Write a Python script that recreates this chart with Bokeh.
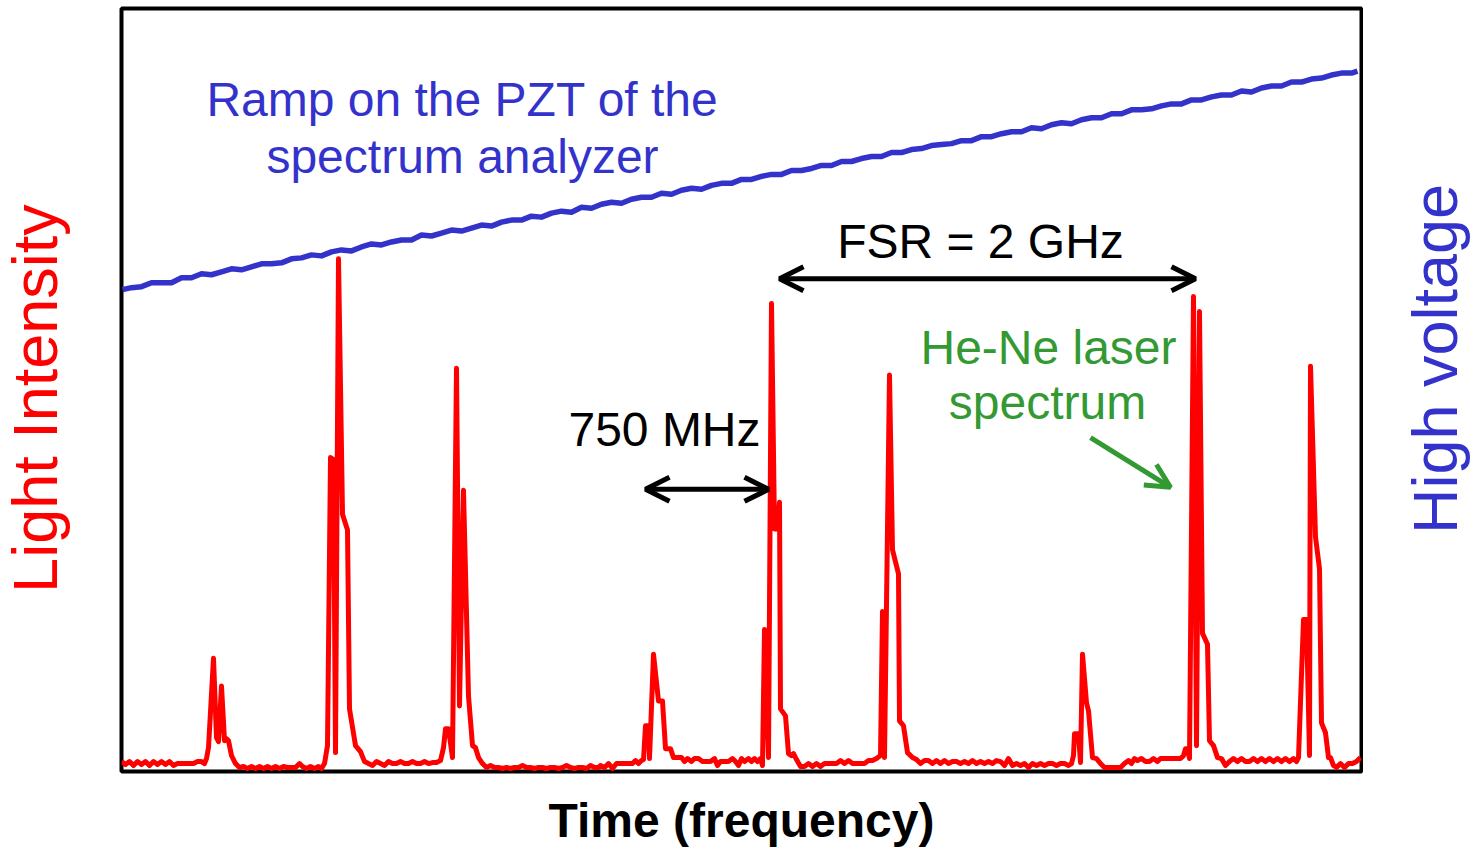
import math
from bokeh.plotting import figure
from bokeh.layouts import row
from bokeh.models import Range1d, FixedTicker, Arrow, OpenHead, Label
from bokeh.core.properties import value
from bokeh.embed import file_html
from bokeh.resources import INLINE

# Detector signal of the scanning Fabry-Perot (time axis, intensity in arb. units)
trace_t = [0, 4, 8, 12, 16, 20, 24, 28, 32, 36, 40, 44, 48, 52, 56, 60, 64, 68, 72, 76, 80, 83, 85, 87,
           92, 95, 97, 100, 103, 105, 107, 110, 114, 118, 122, 126, 130, 134, 138, 142, 146, 150, 154,
           158, 162, 166, 170, 174, 178, 181, 185, 189, 193, 197, 200, 203, 206, 209, 212, 214, 217,
           221, 226, 228, 234, 239, 243, 247, 251, 255, 259, 263, 267, 271, 275, 279, 283, 287, 291,
           295, 299, 303, 307, 311, 315, 319, 322, 324, 327, 331, 335, 338, 342, 347, 351, 354, 357,
           361, 365, 369, 373, 377, 381, 385, 389, 393, 397, 401, 405, 409, 413, 417, 421, 425, 429,
           433, 437, 441, 445, 449, 453, 457, 461, 465, 469, 473, 477, 479, 483, 487, 491, 495, 499,
           503, 507, 511, 514, 517, 520, 522, 524, 527, 528, 532, 537, 541, 544, 549, 552, 556, 560,
           563, 566, 570, 573, 577, 581, 585, 589, 593, 596, 599, 603, 607, 611, 614, 617, 620, 623,
           627, 630, 633, 636, 639, 641, 643, 647, 650, 653, 656, 658, 659, 664, 667, 670, 672, 675,
           679, 683, 687, 691, 695, 699, 703, 707, 711, 715, 719, 723, 727, 731, 735, 739, 743, 747,
           751, 755, 759, 761, 763, 768, 771, 777, 778, 782, 786, 791, 795, 799, 803, 807, 811, 815,
           819, 823, 827, 831, 835, 839, 843, 847, 851, 855, 859, 863, 867, 871, 875, 879, 883, 887,
           891, 895, 899, 903, 907, 911, 915, 919, 923, 927, 931, 935, 939, 943, 947, 950, 952, 953,
           957, 959, 961, 965, 967, 971, 975, 979, 983, 987, 991, 995, 999, 1003, 1007, 1010, 1013,
           1016, 1020, 1024, 1028, 1032, 1036, 1039, 1043, 1047, 1051, 1055, 1059, 1062, 1064, 1066,
           1068, 1072, 1075, 1078, 1081, 1086, 1088, 1092, 1096, 1100, 1104, 1108, 1112, 1116, 1120,
           1124, 1128, 1132, 1136, 1140, 1144, 1148, 1152, 1156, 1160, 1164, 1168, 1172, 1175, 1177,
           1182, 1185, 1188, 1189, 1194, 1198, 1200, 1204, 1207, 1209, 1212, 1215, 1219, 1223, 1227,
           1231, 1235, 1239]
trace_i = [10, 7, 10, 6, 10, 7, 10, 6, 10, 7, 10, 7, 10, 6, 8, 8, 8, 8, 8, 10, 10, 8, 13, 24,
           114, 34, 30, 86, 31, 33, 31, 16, 8, 4, 5, 3, 5, 3, 5, 3, 5, 3, 5,
           3, 5, 4, 4, 4, 8, 5, 3, 5, 3, 5, 3, 8, 26, 316, 314, 19, 516,
           259, 243, 63, 26, 20, 10, 8, 6, 10, 8, 6, 10, 8, 8, 10, 8, 8, 10,
           8, 8, 10, 8, 9, 9, 11, 24, 43, 43, 14, 406, 66, 283, 76, 26, 24, 14,
           8, 4, 6, 4, 4, 3, 4, 3, 4, 4, 6, 4, 4, 3, 4, 4, 3, 4,
           4, 3, 4, 6, 4, 3, 4, 4, 3, 6, 4, 4, 6, 4, 8, 3, 8, 8,
           8, 8, 8, 11, 8, 11, 12, 46, 46, 13, 118, 71, 71, 23, 23, 14, 14, 14,
           10, 13, 10, 13, 13, 10, 10, 10, 13, 6, 10, 10, 10, 13, 10, 6, 13, 10,
           13, 10, 13, 10, 13, 6, 143, 14, 471, 244, 244, 271, 63, 56, 18, 16, 18, 12,
           5, 5, 8, 5, 8, 5, 8, 8, 8, 8, 11, 8, 11, 8, 8, 8, 8, 11,
           11, 13, 16, 161, 14, 399, 223, 199, 51, 46, 19, 14, 12, 8, 11, 11, 8, 11,
           8, 11, 8, 10, 10, 8, 10, 8, 11, 8, 10, 8, 10, 8, 11, 10, 6, 13,
           6, 8, 6, 8, 4, 8, 6, 8, 6, 8, 8, 6, 8, 8, 6, 8, 16, 38,
           38, 9, 118, 69, 61, 14, 13, 8, 4, 4, 4, 4, 4, 8, 11, 8, 13,
           11, 13, 10, 10, 13, 10, 13, 13, 13, 13, 13, 13, 16, 23, 23,
           13, 478, 26, 463, 139, 128, 31, 26, 14, 13, 6, 10, 13, 10, 13,
           10, 10, 13, 10, 13, 10, 13, 10, 13, 10, 13, 10, 13, 10, 14,
           153, 153, 16, 408, 236, 204, 49, 39, 14, 14, 6, 4, 8, 4, 8,
           8, 10, 14]

# Voltage ramp applied to the PZT (same time axis, arb. units)
ramp_t = [1, 10, 20, 30, 40, 50, 60, 70, 80, 90, 100, 110, 120, 130, 140, 150, 160, 170, 180, 190,
          200, 210, 220, 230, 240, 250, 260, 270, 280, 290, 300, 310, 320, 330, 340, 350, 360, 370,
          380, 390, 400, 410, 420, 430, 440, 450, 460, 470, 480, 490, 500, 510, 520, 530, 540, 550,
          560, 570, 580, 590, 600, 610, 620, 630, 640, 650, 660, 670, 680, 690, 700, 710, 720, 730,
          740, 750, 760, 770, 780, 790, 800, 810, 820, 830, 840, 850, 860, 870, 880, 890, 900, 910,
          920, 930, 940, 950, 960, 970, 980, 990, 1000, 1010, 1020, 1030, 1040, 1050, 1060, 1070,
          1080, 1090, 1100, 1110, 1120, 1130, 1140, 1150, 1160, 1170, 1180, 1190, 1200, 1210, 1220,
          1230, 1236]
ramp_v = [485, 487, 488, 492, 492, 492, 497, 497, 501, 500, 503, 506, 505, 508, 511, 511, 512, 516,
          517, 520, 519, 523, 525, 524, 528, 531, 530, 533, 535, 535, 540, 539, 542, 545, 544, 547,
          550, 549, 553, 555, 555, 559, 558, 562, 564, 563, 568, 567, 571, 573, 572, 576, 578, 578,
          582, 581, 585, 587, 586, 590, 592, 592, 596, 596, 599, 601, 601, 605, 605, 607, 610, 610,
          614, 614, 617, 619, 619, 623, 623, 626, 627, 630, 631, 632, 635, 635, 639, 639, 642, 644,
          644, 648, 647, 651, 653, 652, 656, 658, 658, 662, 662, 666, 666, 667, 670, 672, 672, 676,
          676, 679, 681, 681, 685, 684, 688, 690, 690, 694, 694, 697, 698, 701, 703, 703, 705]

FONT = "Liberation Sans"
RED = "#FF0000"
BLUE = "#3333CC"
GREEN = "#339933"
H = 849


def side_panel(width):
    f = figure(width=width, height=H, output_backend="svg", toolbar_location=None,
               x_range=Range1d(0, width), y_range=Range1d(0, H),
               x_axis_location=None, y_axis_location=None, min_border=0)
    f.grid.visible = False
    f.outline_line_color = None
    f.background_fill_color = "white"
    f.border_fill_color = "white"
    return f


# main plot: frame of 1240 x 768 px
p = figure(width=1244, height=H, output_backend="svg", toolbar_location=None,
           x_range=Range1d(0, 1240), y_range=Range1d(0, 768), y_axis_location=None,
           min_border_left=2, min_border_right=2, min_border_top=8, min_border_bottom=73)
p.extra_y_ranges = {"hv": Range1d(0, 768)}
p.grid.visible = False
p.outline_line_color = "black"
p.outline_line_width = 4
p.background_fill_color = "white"
p.border_fill_color = "white"

ax = p.xaxis[0]
ax.ticker = FixedTicker(ticks=[])
ax.major_tick_out = 0
ax.major_tick_in = 0
ax.minor_tick_out = 0
ax.minor_tick_in = 0
ax.axis_line_color = None
ax.axis_label = "Time (frequency)"
ax.axis_label_text_font = FONT
ax.axis_label_text_font_size = "48px"
ax.axis_label_text_font_style = "bold"
ax.axis_label_text_color = "black"
ax.axis_label_standoff = 22

p.line(ramp_t, ramp_v, y_range_name="hv", line_color=BLUE, line_width=5.5, line_join="round")
p.line(trace_t, trace_i, line_color=RED, line_width=5, line_join="round")


def text(x, y, s, color, size="48px"):
    p.add_layout(Label(x=x, y=y, text=s, text_color=color, text_font=FONT,
                       text_font_size=size, text_align="center", text_baseline="middle"))


text(341, 676, "Ramp on the PZT of the", BLUE)
text(341, 619, "spectrum analyzer", BLUE)
text(859, 533, "FSR = 2 GHz", "black")
text(543, 344, "750 MHz", "black")
text(927, 427, "He-Ne laser", GREEN)
text(926, 371, "spectrum", GREEN)


def head(color):
    return OpenHead(size=24, line_color=color, line_width=5)


p.add_layout(Arrow(start=head("black"), end=head("black"), x_start=658, y_start=496,
                   x_end=1074, y_end=496, line_color="black", line_width=5))
p.add_layout(Arrow(start=head("black"), end=head("black"), x_start=524, y_start=284,
                   x_end=647, y_end=284, line_color="black", line_width=5))
p.add_layout(Arrow(end=head(GREEN), x_start=969, y_start=336, x_end=1049, y_end=286,
                   line_color=GREEN, line_width=5))

# vertical titles on both sides of the frame
left = side_panel(119)
left.text(x=[34], y=[415], text=["Light Intensity"], angle=math.pi / 2,
          text_color=RED, text_font=value(FONT), text_font_size="63px",
          text_align="center", text_baseline="alphabetic")

right = side_panel(112)
right.text(x=[71], y=[459], text=["High voltage"], angle=math.pi / 2,
           text_color=BLUE, text_font=value(FONT), text_font_size="63px",
           text_align="center", text_baseline="alphabetic")

layout = row(left, p, right, spacing=0)
open("out.html", "w").write(file_html(layout, INLINE))
